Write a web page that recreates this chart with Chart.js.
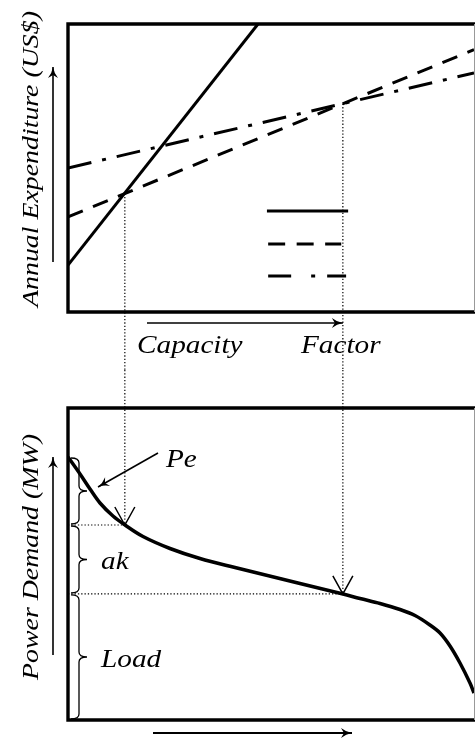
<!DOCTYPE html>
<html lang="en">
<head>
<meta charset="UTF-8">
<title>Capacity Factor and Load Duration</title>
<style>
    body {
        margin: 0;
        background: #fff;
    }
    .panel {
        position: absolute;
        left: 0;
        width: 475px;
    }
    #topBox { top: 0; height: 370px; }
    #bottomBox { top: 370px; height: 368px; }
</style>
</head>
<body>
<div class="panel" id="topBox"><canvas id="costChart"></canvas></div>
<div class="panel" id="bottomBox"><canvas id="loadChart"></canvas></div>

<script src="https://cdn.jsdelivr.net/npm/chart.js"></script>
<script>
    // Top panel: annual expenditure vs capacity factor (both axes 0-100, unitless)
    const solidX = [0, 46.8];
    const solidY = [16.3, 100];
    const dashedX = [0, 100];
    const dashedY = [33.0, 91.1];
    const dashDotX = [0, 100];
    const dashDotY = [50.0, 83.0];

    // legend key lines (no labels in the original)
    const keyX = [[49, 69], [49.3, 67.3], [49.3, 68.5]];
    const keyY = [35.1, 23.6, 12.5];

    // where the cost lines cross, and the matching load levels below
    const crossFactors = [14.0, 67.7];
    const crossCosts = [41.1, 72.3];
    const crossLevels = [62.5, 40.4];

    // Bottom panel: load duration curve
    const durationX = [0, 2.96, 5.42, 7.88, 11.08, 14.04, 18.47, 25.12, 32.51, 41.13, 57.14, 67.73, 71.92, 76.85, 81.77, 85.47, 89.16, 91.63, 94.09, 96.55, 99.01, 100];
    const demandY = [84.29, 78.85, 74.04, 69.55, 65.38, 62.50, 58.81, 54.97, 51.76, 48.88, 43.75, 40.38, 38.94, 37.34, 35.42, 33.49, 30.45, 27.88, 23.72, 18.27, 11.86, 8.65];

    // brace bands on the demand axis (top to bottom) and their labels
    const braceEdges = [84.3, 62.5, 40.4, 0];
    const braceLabels = ['', 'ak', 'Load'];

    const labelFont = 'italic 25px "Liberation Serif", "DejaVu Serif", serif';
    const titleFont = 'italic 24px "Liberation Serif", "DejaVu Serif", serif';
    const stretch = 1.17;

    function toPoints(xs, ys) {
        return xs.map((x, i) => ({ x: x, y: ys[i] }));
    }

    // the original type is a wide italic, so widen the serif a bit
    function wideText(ctx, text, x, y, sx) {
        ctx.save();
        ctx.translate(x, y);
        ctx.scale(sx, 1);
        ctx.fillText(text, 0, 0);
        ctx.restore();
    }

    function arrowHead(ctx, x, y, angle) {
        ctx.save();
        ctx.translate(x, y);
        ctx.rotate(angle);
        ctx.beginPath();
        ctx.moveTo(0, 0);
        ctx.quadraticCurveTo(-6, -1, -11, -5);
        ctx.lineTo(-8, 0);
        ctx.lineTo(-11, 5);
        ctx.quadraticCurveTo(-6, 1, 0, 0);
        ctx.closePath();
        ctx.fill();
        ctx.restore();
    }

    function arrow(ctx, x1, y1, x2, y2) {
        ctx.beginPath();
        ctx.moveTo(x1, y1);
        ctx.lineTo(x2, y2);
        ctx.stroke();
        arrowHead(ctx, x2, y2, Math.atan2(y2 - y1, x2 - x1));
    }

    function dotted(ctx, x1, y1, x2, y2) {
        ctx.save();
        ctx.lineWidth = 1.2;
        ctx.setLineDash([1.3, 2]);
        ctx.beginPath();
        ctx.moveTo(x1, y1);
        ctx.lineTo(x2, y2);
        ctx.stroke();
        ctx.restore();
    }

    function frame(ctx, a) {
        ctx.save();
        ctx.strokeStyle = '#000';
        ctx.lineWidth = 3.4;
        ctx.beginPath();
        ctx.moveTo(a.right + 2, a.top);
        ctx.lineTo(a.left, a.top);
        ctx.lineTo(a.left, a.bottom);
        ctx.lineTo(a.right + 2, a.bottom);
        ctx.stroke();
        ctx.strokeStyle = '#999';
        ctx.lineWidth = 1;
        ctx.beginPath();
        ctx.moveTo(a.right + 0.5, a.top);
        ctx.lineTo(a.right + 0.5, a.bottom);
        ctx.stroke();
        ctx.restore();
    }

    function sideTitle(ctx, text, x, yMid) {
        ctx.save();
        ctx.translate(x, yMid);
        ctx.rotate(-Math.PI / 2);
        ctx.scale(1.16, 1);
        ctx.font = titleFont;
        ctx.textAlign = 'center';
        ctx.textBaseline = 'alphabetic';
        ctx.fillText(text, 0, 0);
        ctx.restore();
    }

    function brace(ctx, x0, yTop, yBot, w) {
        const xm = x0 + w * 0.5;
        const ym = (yTop + yBot) / 2;
        const r = Math.min(5, (yBot - yTop) / 4);
        ctx.beginPath();
        ctx.moveTo(x0, yTop);
        ctx.quadraticCurveTo(xm, yTop, xm, yTop + r);
        ctx.lineTo(xm, ym - r);
        ctx.quadraticCurveTo(xm, ym, x0 + w, ym);
        ctx.quadraticCurveTo(xm, ym, xm, ym + r);
        ctx.lineTo(xm, yBot - r);
        ctx.quadraticCurveTo(xm, yBot, x0, yBot);
        ctx.stroke();
    }

    const baseOptions = (padBottom, padTop) => ({
        responsive: true,
        maintainAspectRatio: false,
        animation: false,
        layout: { padding: { left: 68, right: 1, top: padTop, bottom: padBottom } },
        plugins: { legend: { display: false }, tooltip: { enabled: false } },
        scales: {
            x: { type: 'linear', min: 0, max: 100, display: false },
            y: { type: 'linear', min: 0, max: 100, display: false }
        },
        elements: { point: { radius: 0 } }
    });

    const lineSet = (pts, dash) => ({
        data: pts,
        borderColor: '#000',
        borderWidth: 3,
        borderDash: dash,
        fill: false,
        tension: 0
    });

    // ---------- top chart ----------
    const topDecor = {
        id: 'topDecor',
        afterDraw(chart) {
            const ctx = chart.ctx;
            const a = chart.chartArea;
            const xs = chart.scales.x, ys = chart.scales.y;
            ctx.save();
            ctx.fillStyle = '#000';
            ctx.strokeStyle = '#000';

            crossFactors.forEach((f, i) => {
                dotted(ctx, xs.getPixelForValue(f), ys.getPixelForValue(crossCosts[i]), xs.getPixelForValue(f), chart.height);
            });

            frame(ctx, a);

            ctx.lineWidth = 1.6;
            arrow(ctx, 53, 262, 53, 67);
            arrow(ctx, 147, 323, xs.getPixelForValue(crossFactors[1]), 323);

            ctx.font = labelFont;
            ctx.textBaseline = 'alphabetic';
            wideText(ctx, 'Capacity', 137, 353, stretch);
            wideText(ctx, 'Factor', 301, 353, stretch);
            sideTitle(ctx, 'Annual Expenditure (US$)', 38, 159);
            ctx.restore();
        }
    };

    new Chart(document.getElementById('costChart'), {
        type: 'line',
        data: {
            datasets: [
                lineSet(toPoints(solidX, solidY), []),
                lineSet(toPoints(dashedX, dashedY), [16, 11]),
                lineSet(toPoints(dashDotX, dashDotY), [24, 11, 4, 11]),
                lineSet(toPoints(keyX[0], [keyY[0], keyY[0]]), []),
                lineSet(toPoints(keyX[1], [keyY[1], keyY[1]]), [17, 11.5]),
                lineSet(toPoints(keyX[2], [keyY[2], keyY[2]]), [23, 20, 4, 12])
            ]
        },
        options: baseOptions(58, 24),
        plugins: [topDecor]
    });

    // ---------- bottom chart ----------
    const bottomDecor = {
        id: 'bottomDecor',
        afterDraw(chart) {
            const ctx = chart.ctx;
            const a = chart.chartArea;
            const xs = chart.scales.x, ys = chart.scales.y;
            ctx.save();
            ctx.fillStyle = '#000';
            ctx.strokeStyle = '#000';

            crossFactors.forEach((f, i) => {
                const px = xs.getPixelForValue(f);
                const py = ys.getPixelForValue(crossLevels[i]);
                dotted(ctx, a.left, py, px, py);
                dotted(ctx, px, 0, px, py - 1);
                ctx.lineWidth = 1.5;
                ctx.beginPath();
                ctx.moveTo(px - 10, py - 18);
                ctx.lineTo(px, py);
                ctx.lineTo(px + 10, py - 18);
                ctx.stroke();
            });

            ctx.lineWidth = 1.3;
            for (let i = 0; i < braceLabels.length; i++) {
                const yT = ys.getPixelForValue(braceEdges[i]) + 1;
                const yB = ys.getPixelForValue(braceEdges[i + 1]) - 1;
                brace(ctx, a.left + 3, yT, yB, 16);
            }

            frame(ctx, a);

            ctx.font = labelFont;
            ctx.textBaseline = 'alphabetic';
            braceLabels.forEach((lab, i) => {
                if (!lab) return;
                const ym = ys.getPixelForValue((braceEdges[i] + braceEdges[i + 1]) / 2);
                wideText(ctx, lab, a.left + 33, ym + 10, stretch);
            });
            wideText(ctx, 'Pe', 166, 97, stretch);

            ctx.lineWidth = 1.6;
            arrow(ctx, 158, 83, 98, 117);
            arrow(ctx, 53, 285, 53, 87);
            ctx.lineWidth = 2;
            arrow(ctx, 153, 363, 352, 363);

            sideTitle(ctx, 'Power Demand (MW)', 38, 187);
            ctx.restore();
        }
    };

    new Chart(document.getElementById('loadChart'), {
        type: 'line',
        data: {
            datasets: [{
                data: toPoints(durationX, demandY),
                borderColor: '#000',
                borderWidth: 3.5,
                fill: false,
                tension: 0.35
            }]
        },
        options: baseOptions(18, 38),
        plugins: [bottomDecor]
    });
</script>
</body>
</html>
